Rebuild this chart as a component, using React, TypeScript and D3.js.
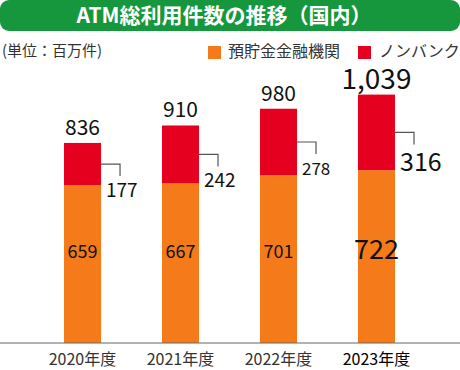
import React from 'react'
import * as d3 from 'd3'

const width = 460
const height = 370

const years = ['2020年度', '2021年度', '2022年度', '2023年度']
const banks = [659, 667, 701, 722]
const nonBanks = [177, 242, 278, 316]
const totals = ['836', '910', '980', '1,039']
const seriesNames = ['預貯金金融機関', 'ノンバンク']

const orange = '#f47a1a'
const red = '#e60020'
const green = '#16973e'
const font = '"Noto Sans CJK JP", "Noto Sans", sans-serif'

const x = d3.scaleBand().domain(years).range([15, 444]).paddingInner(0.622).paddingOuter(0.5)
const y = d3.scaleLinear().domain([0, 1000]).range([343, 343 - 239.3])

export default function App() {
  const bw = x.bandwidth()
  return (
    <svg width={width} height={height} style={{ position: 'absolute', left: 0, top: 0, fontFamily: font }}>
      <rect x={0} y={0} width={width} height={31} rx={9} fill={green} />
      <text x={224} y={23} textAnchor="middle" fontSize={21} fontWeight="bold" fill="#fff">
        ATM総利用件数の推移（国内）
      </text>

      <text x={2} y={56} fontSize={15} fill="#333">(単位：百万件)</text>
      <rect x={208} y={46} width={13} height={13} fill={orange} />
      <text x={228} y={57} fontSize={16} fill="#333">{seriesNames[0]}</text>
      <rect x={358} y={46} width={13} height={13} fill={red} />
      <text x={379} y={57} fontSize={16} fill="#333">{seriesNames[1]}</text>

      {years.map((yr, i) => {
        const x0 = x(yr) as number
        const cx = x0 + bw / 2
        const total = banks[i] + nonBanks[i]
        const last = i === years.length - 1
        const midNb = y(banks[i] + nonBanks[i] / 2)
        const lx = x0 + bw + 19
        return (
          <g key={yr}>
            <rect x={x0} y={y(banks[i])} width={bw} height={y(0) - y(banks[i])} fill={orange} />
            <rect x={x0} y={y(total)} width={bw} height={y(banks[i]) - y(total)} fill={red} />
            <text x={cx} y={last ? 89 : y(total) - 8} textAnchor="middle" fontSize={last ? 28 : 21}
              fill="#111">{totals[i]}</text>
            <path d={`M${x0 + bw},${midNb}H${lx}V${midNb + 12}`} fill="none" stroke="#555" strokeWidth={1.2} />
            <text x={x0 + bw + 5} y={midNb + (last ? 39 : 33)} fontSize={last ? 25 : i === 2 ? 17 : 19}
              fill="#111">{nonBanks[i]}</text>
            <text x={cx} y={last ? 259 : 258} textAnchor="middle" fontSize={last ? 27 : 18}
              fill="#111">{banks[i]}</text>
            <text x={cx} y={365} textAnchor="middle" fontSize={16}
              fill={last ? '#000' : '#333'}>{yr}</text>
          </g>
        )
      })}

      <line x1={0} x2={width} y1={y(0)} y2={y(0)} stroke="#666" strokeWidth={1} />
    </svg>
  )
}
